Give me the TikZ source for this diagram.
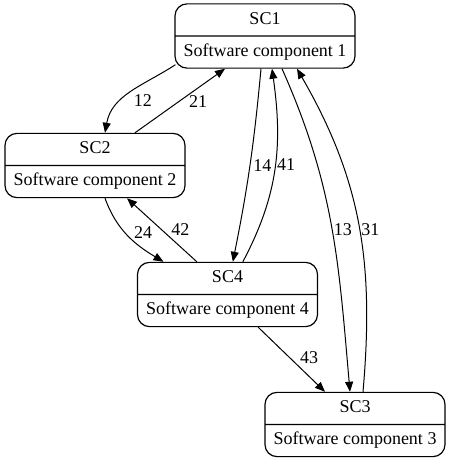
\documentclass[tikz,border=0pt]{standalone}
\usepackage{fontspec}
\setmainfont{Liberation Serif}
\usetikzlibrary{arrows.meta,positioning,shapes.multipart,calc}
\tikzset{
swcomp/.style={rectangle split,rectangle split parts=2,rounded corners=9pt,draw,line width=0.9pt,inner xsep=3pt,inner ysep=3.6pt,minimum width=135pt},
swarr/.style={-{Triangle[length=7.5pt,width=6pt]},line width=0.75pt},
swlabel/.style={inner sep=0pt}
}
\begin{document}
\begin{tikzpicture}[
x=0.75pt,
y=-0.75pt,
every node/.style={font=\fontsize{13.5}{16}\selectfont}
]
\useasboundingbox (0,0) rectangle (449,459);
\node[swcomp] (sc1) at (265,36) {\strut SC1\nodepart{two}\strut Software component 1};
\node[swcomp] (sc2) at (95,165.5) {\strut SC2\nodepart{two}\strut Software component 2};
\node[swcomp] (sc4) at (227.5,294.5) {\strut SC4\nodepart{two}\strut Software component 4};
\node[swcomp] (sc3) at (355,424.5) {\strut SC3\nodepart{two}\strut Software component 3};
\draw[swarr] ([xshift=0.75pt,yshift=3pt]sc1.south west) to[out=213,in=80]
  node[swlabel,pos=0.63,right=9pt]{12} ([xshift=7.5pt]sc2.north);
\draw[swarr] ([xshift=30pt]sc2.north) --
  node[swlabel,pos=0.485,right=7.5pt]{21} ([xshift=-30pt]sc1.south);
\draw[swarr] ([xshift=-3pt]sc1.south) to[bend left=3]
  node[swlabel,pos=0.5,right=2.25pt]{14} ([xshift=4pt]sc4.north);
\draw[swarr] ([xshift=11.5pt]sc4.north) to[out=62,in=-82]
  node[swlabel,pos=0.52,right=1pt]{41} ([xshift=5.25pt]sc1.south);
\draw[swarr] ([xshift=12.75pt]sc1.south) to[out=-66,in=95]
  node[swlabel,pos=0.51,right=1pt]{13} ([xshift=-3.75pt]sc3.north);
\draw[swarr] ([xshift=6pt]sc3.north) to[out=85,in=-60]
  node[swlabel,pos=0.48,right=1pt]{31} ([xshift=24pt]sc1.south);
\draw[swarr] ([xshift=7.5pt]sc2.south) to[out=-70,in=149]
  node[swlabel,pos=0.45,right=6.5pt]{24} ([xshift=-48pt]sc4.north);
\draw[swarr] ([xshift=-23pt]sc4.north) --
  node[swlabel,pos=0.507,right=7pt]{42} ([xshift=24pt]sc2.south);
\draw[swarr] ([xshift=23pt]sc4.south) --
  node[swlabel,pos=0.47,right=7.5pt]{43} ([xshift=-22.5pt]sc3.north);
\end{tikzpicture}
\end{document}
